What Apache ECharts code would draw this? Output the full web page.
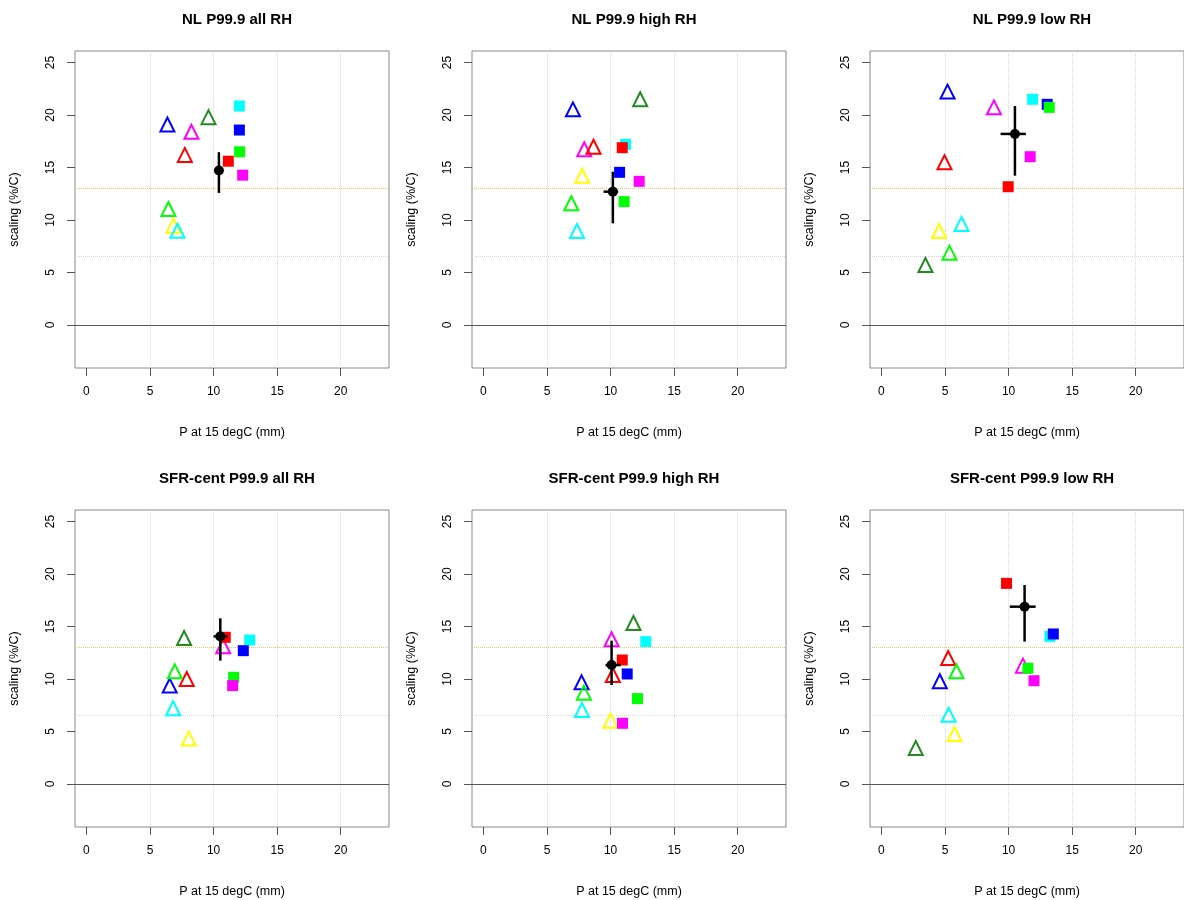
<!DOCTYPE html>
<html>
<head>
<meta charset="utf-8">
<script src="https://cdn.jsdelivr.net/npm/echarts@6/dist/echarts.min.js"></script>
<style>html,body{margin:0;padding:0;background:#fff}#main{width:1184px;height:900px}</style>
</head>
<body>
<div id="main"></div>
<script>
// panel titles
const titles = ['NL P99.9 all RH', 'NL P99.9 high RH', 'NL P99.9 low RH',
  'SFR-cent P99.9 all RH', 'SFR-cent P99.9 high RH', 'SFR-cent P99.9 low RH'];

// triangle models (open): blue, magenta, darkgreen, red, green, yellow, cyan
const triColors = ['#0000ff', '#ff00ff', '#228b22', '#ff0000', '#00ff00', '#ffff00', '#00ffff'];
// square models (filled): cyan, blue, green, red, magenta
const sqColors = ['#00ffff', '#0000ff', '#00ff00', '#ff0000', '#ff00ff'];

const triX = [
  [6.37, 8.26, 9.6, 7.74, 6.45, 6.84, 7.16],
  [7.04, 7.93, 12.33, 8.66, 6.91, 7.77, 7.36],
  [5.2, 8.85, 3.46, 4.96, 5.35, 4.54, 6.3],
  [6.55, 10.76, 7.68, 7.89, 6.95, 8.05, 6.82],
  [7.72, 10.08, 11.8, 10.18, 7.9, 10.0, 7.75],
  [4.59, 11.13, 2.7, 5.25, 5.9, 5.75, 5.28]
];
const triY = [
  [19.1, 18.4, 19.8, 16.2, 11.05, 9.46, 8.98],
  [20.54, 16.73, 21.5, 16.98, 11.59, 14.22, 8.95],
  [22.23, 20.73, 5.71, 15.5, 6.89, 8.95, 9.62],
  [9.37, 13.11, 13.9, 10.0, 10.73, 4.32, 7.21],
  [9.68, 13.78, 15.33, 10.38, 8.7, 6.03, 7.05],
  [9.78, 11.27, 3.43, 12.0, 10.73, 4.76, 6.6]
];
const sqX = [
  [12.03, 12.03, 12.05, 11.16, 12.29],
  [11.18, 10.71, 11.07, 10.92, 12.25],
  [11.89, 13.04, 13.2, 9.97, 11.7],
  [12.84, 12.34, 11.58, 10.92, 11.5],
  [12.77, 11.31, 12.12, 10.92, 10.94],
  [13.25, 13.52, 11.52, 9.84, 12.0]
];
const sqY = [
  [20.86, 18.57, 16.5, 15.6, 14.27],
  [17.2, 14.54, 11.75, 16.89, 13.68],
  [21.5, 21.02, 20.73, 13.17, 16.03],
  [13.71, 12.7, 10.16, 13.97, 9.37],
  [13.56, 10.48, 8.13, 11.81, 5.78],
  [14.06, 14.29, 11.02, 19.11, 9.84]
];
// ensemble mean and ranges
const meanX = [10.42, 10.18, 10.5, 10.53, 10.08, 11.26];
const meanY = [14.71, 12.7, 18.2, 14.06, 11.33, 16.89];
const xLo = [10.42, 9.45, 9.37, 10.0, 9.6, 10.1];
const xHi = [10.42, 10.6, 11.36, 11.1, 10.8, 12.13];
const yLo = [12.58, 9.68, 14.22, 11.75, 9.43, 13.56];
const yHi = [16.46, 14.6, 20.86, 15.78, 13.65, 18.95];

const xTicks = [0, 5, 10, 15, 20];
const yTicks = [0, 5, 10, 15, 20, 25];
const refLine = 13;
const halfLine = 6.5;

const lefts = [75, 472, 870];
const tops = [51, 510];
const W = 314, H = 317;

const grid = [], xAxis = [], yAxis = [], series = [], title = [];
const lab = {fontFamily: 'Liberation Sans, Arial', color: '#000'};

for (let i = 0; i < 6; i++) {
  const l = lefts[i % 3], t = tops[Math.floor(i / 3)];
  grid.push({left: l, top: t, width: W, height: H, show: true, borderColor: '#888', borderWidth: 1, backgroundColor: '#fff'});
  title.push({text: titles[i], left: l + W / 2, top: t - 44, textAlign: 'center',
    textStyle: {fontFamily: 'Liberation Sans, Arial', fontSize: 15, fontWeight: 'bold', color: '#000'}});
  xAxis.push({gridIndex: i, type: 'value', min: -0.9, max: 23.8,
    name: 'P at 15 degC (mm)', nameLocation: 'middle', nameGap: 58,
    nameTextStyle: Object.assign({fontSize: 12.5}, lab),
    axisLine: {show: false, onZero: false}, splitLine: {show: false},
    axisTick: {show: true, length: 8, customValues: xTicks, lineStyle: {color: '#555'}},
    axisLabel: Object.assign({fontSize: 12, customValues: xTicks, margin: 18}, lab)});
  yAxis.push({gridIndex: i, type: 'value', min: -4.1, max: 26.1,
    name: 'scaling (%/C)', nameLocation: 'middle', nameGap: 54,
    nameTextStyle: Object.assign({fontSize: 12.5}, lab),
    axisLine: {show: false, onZero: false}, splitLine: {show: false},
    axisTick: {show: true, length: 8, customValues: yTicks, lineStyle: {color: '#555'}},
    axisLabel: Object.assign({fontSize: 12, rotate: 90, customValues: yTicks, margin: 18}, lab)});

  // reference lines and grid
  series.push({type: 'scatter', xAxisIndex: i, yAxisIndex: i, data: [], silent: true, z: 1,
    markLine: {silent: true, symbol: 'none', label: {show: false}, animation: false, z: 1, data: [
      ...[5, 10, 15, 20].map(v => ({xAxis: v, lineStyle: {color: '#d8d8d8', type: 'dotted', width: 1}})),
      {yAxis: halfLine, lineStyle: {color: '#d8d8d8', type: 'dotted', width: 1}},
      {yAxis: refLine, lineStyle: {color: '#ffc060', type: 'dotted', width: 1}},
      {yAxis: 0, lineStyle: {color: '#555', type: 'solid', width: 1}}
    ]}});
  series.push({type: 'scatter', xAxisIndex: i, yAxisIndex: i, symbol: 'triangle', symbolSize: 14, z: 3,
    data: triX[i].map((x, k) => ({value: [x, triY[i][k]],
      itemStyle: {color: 'rgba(0,0,0,0)', borderColor: triColors[k], borderWidth: 2, opacity: 1}}))});
  series.push({type: 'scatter', xAxisIndex: i, yAxisIndex: i, symbol: 'rect', symbolSize: 11, z: 3,
    data: sqX[i].map((x, k) => ({value: [x, sqY[i][k]], itemStyle: {color: sqColors[k], opacity: 1}}))});
  series.push({type: 'custom', xAxisIndex: i, yAxisIndex: i, z: 5,
    data: [[meanX[i], meanY[i], xLo[i], xHi[i], yLo[i], yHi[i]]],
    renderItem: function (params, api) {
      const c = api.coord([api.value(0), api.value(1)]);
      const a = api.coord([api.value(2), api.value(1)]);
      const b = api.coord([api.value(3), api.value(1)]);
      const d = api.coord([api.value(0), api.value(4)]);
      const e = api.coord([api.value(0), api.value(5)]);
      const st = {stroke: '#000', lineWidth: 2.5};
      return {type: 'group', children: [
        {type: 'line', shape: {x1: a[0], y1: a[1], x2: b[0], y2: b[1]}, style: st},
        {type: 'line', shape: {x1: d[0], y1: d[1], x2: e[0], y2: e[1]}, style: st},
        {type: 'circle', shape: {cx: c[0], cy: c[1], r: 5}, style: {fill: '#000'}}
      ]};
    }});
}

const chart = echarts.init(document.getElementById('main'));
chart.setOption({animation: false, title, grid, xAxis, yAxis, series});
</script>
</body>
</html>
